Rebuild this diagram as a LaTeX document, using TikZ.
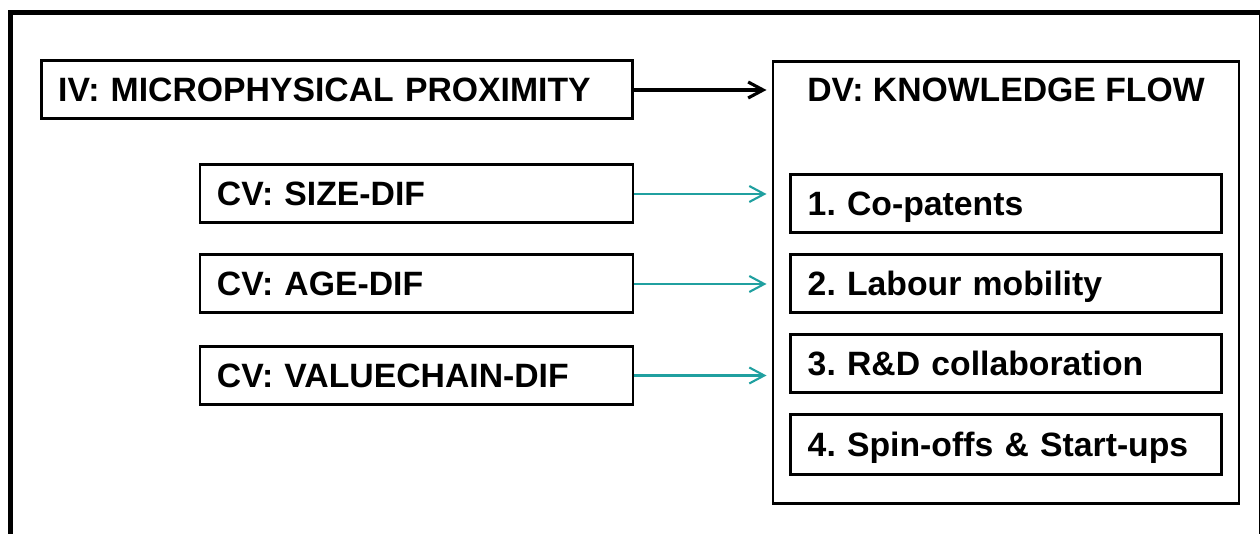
\documentclass[tikz,border=0pt]{standalone}
\usepackage{fontspec}
\setmainfont{Liberation Sans}
\usepackage{xcolor}
\usetikzlibrary{arrows.meta, positioning}
\definecolor{flowteal}{RGB}{32,160,160}
\frenchspacing

\tikzset{
  varbox/.style={draw, line width=0.85pt, minimum height=0.58cm, inner xsep=0.17cm, inner ysep=0pt,
    align=left, text height=0.72em, text depth=0.06em, font=\bfseries\fontsize{9.6}{11}\selectfont},
  flowarrow/.style={-{Straight Barb[length=1.5mm, width=1.6mm]}, shorten >=0.05cm},
}

\begin{document}
\begin{tikzpicture}
  \useasboundingbox (0,0) rectangle (12.6,5.34);
  \clip (0,0) rectangle (12.6,5.34);
  \draw[line width=1.4pt] (0.108,-0.5) rectangle (12.615,5.215);

  \node[varbox, text width=5.575cm] (iv) at (3.37,4.44) {IV: MICROPHYSICAL PROXIMITY};

  \node[varbox, text width=3.99cm] (size) at (4.165,3.40) {CV: SIZE-DIF};
  \node[varbox, text width=3.99cm] (age) at (4.165,2.50) {CV: AGE-DIF};
  \node[varbox, text width=3.99cm] (chain) at (4.165,1.585) {CV: VALUECHAIN-DIF};

  \node[draw, line width=0.85pt, minimum width=4.66cm, minimum height=4.425cm] (dv) at (10.06,2.5125) {};
  \node[font=\bfseries\fontsize{9.6}{11}\selectfont, text height=0.72em, text depth=0.06em] (dvtitle) at (10.06,4.44) {DV: KNOWLEDGE FLOW};

  \node[varbox, text width=3.965cm] (copat) at (10.06,3.30) {1. Co-patents};
  \node[varbox, text width=3.965cm] (labour) at (10.06,2.50) {2. Labour mobility};
  \node[varbox, text width=3.965cm] (rnd) at (10.06,1.70) {3. R\&D collaboration};
  \node[varbox, text width=3.965cm, minimum height=0.60cm] (spin) at (10.06,0.89) {4. Spin-offs \& Start-ups};

  \draw[flowarrow, line width=0.9pt] (iv.east) -- (iv.east -| dv.west);
  \draw[flowarrow, flowteal, line width=0.6pt] (size.east) -- (size.east -| dv.west);
  \draw[flowarrow, flowteal, line width=0.6pt] (age.east) -- (age.east -| dv.west);
  \draw[flowarrow, flowteal, line width=0.6pt] (chain.east) -- (chain.east -| dv.west);
\end{tikzpicture}
\end{document}
